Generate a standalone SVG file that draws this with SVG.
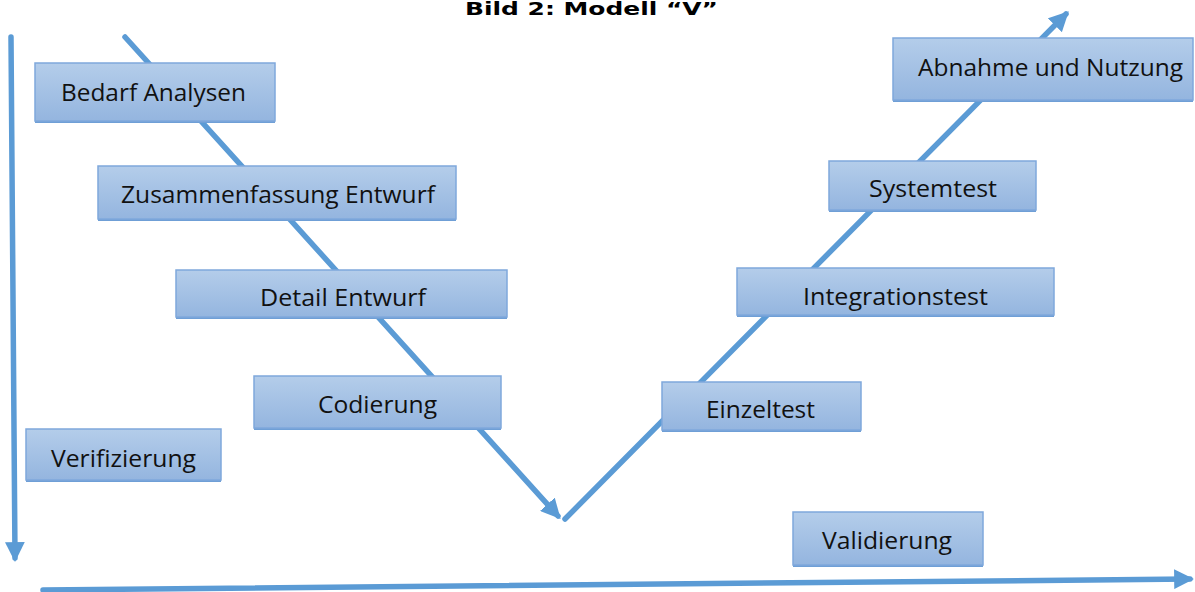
<svg xmlns="http://www.w3.org/2000/svg" width="1195" height="592" viewBox="0 0 1195 592">
<defs>
<linearGradient id="bg" x1="0" y1="0" x2="0" y2="1">
<stop offset="0" stop-color="#b4cdea"/>
<stop offset="1" stop-color="#94b5df"/>
</linearGradient>
<marker id="ah" viewBox="0 0 10 10" refX="8" refY="5" markerWidth="3.6" markerHeight="3.6" orient="auto" markerUnits="strokeWidth">
<path d="M0,0 L10,5 L0,10 z" fill="#5b9bd5"/>
</marker>
<style>
.ln{stroke:#5b9bd5;stroke-width:5.5;fill:none;stroke-linecap:round}
.bx{fill:url(#bg);stroke:#7fa8dc;stroke-width:1.5}
.sh{fill:#6f9fd6}
.tx{font-family:"Open Sans","Liberation Sans",sans-serif;font-size:23px;fill:#111;text-anchor:start}
.ti{font-family:"DejaVu Sans",sans-serif;font-weight:bold;font-size:17px;fill:#000}
</style>
</defs>
<rect width="1195" height="592" fill="#fff"/>
<text class="ti" x="465" y="15" textLength="253" lengthAdjust="spacingAndGlyphs">Bild 2: Modell “V”</text>
<g id="connectors">
<line class="ln" x1="125" y1="37" x2="558" y2="516" marker-end="url(#ah)"/>
<line class="ln" x1="565" y1="519" x2="1066" y2="14" marker-end="url(#ah)"/>
<line class="ln" x1="11" y1="37" x2="15" y2="558" marker-end="url(#ah)"/>
<line class="ln" x1="43" y1="590" x2="1190" y2="579" marker-end="url(#ah)"/>
</g>
<g id="n-bedarf"><rect class="sh" x="35" y="119" width="240" height="4"/><rect class="bx" x="35" y="63" width="240" height="58"/><text class="tx" x="61" y="101" textLength="185" lengthAdjust="spacingAndGlyphs">Bedarf Analysen</text></g>
<g id="n-zusammenfassung"><rect class="sh" x="98" y="217" width="358" height="4"/><rect class="bx" x="98" y="166" width="358" height="53"/><text class="tx" x="121" y="203" textLength="314" lengthAdjust="spacingAndGlyphs">Zusammenfassung Entwurf</text></g>
<g id="n-detail"><rect class="sh" x="176" y="315" width="331" height="4"/><rect class="bx" x="176" y="270" width="331" height="47"/><text class="tx" x="260" y="306" textLength="166" lengthAdjust="spacingAndGlyphs">Detail Entwurf</text></g>
<g id="n-codierung"><rect class="sh" x="254" y="426" width="247" height="4"/><rect class="bx" x="254" y="376" width="247" height="52"/><text class="tx" x="318" y="413" textLength="119" lengthAdjust="spacingAndGlyphs">Codierung</text></g>
<g id="n-verifizierung"><rect class="sh" x="26" y="478" width="195" height="4"/><rect class="bx" x="26" y="429" width="195" height="51"/><text class="tx" x="51" y="467" textLength="145" lengthAdjust="spacingAndGlyphs">Verifizierung</text></g>
<g id="n-einzeltest"><rect class="sh" x="662" y="428" width="199" height="4"/><rect class="bx" x="662" y="382" width="199" height="48"/><text class="tx" x="706" y="418" textLength="109" lengthAdjust="spacingAndGlyphs">Einzeltest</text></g>
<g id="n-integrationstest"><rect class="sh" x="737" y="313" width="317" height="4"/><rect class="bx" x="737" y="268" width="317" height="47"/><text class="tx" x="803" y="305" textLength="185" lengthAdjust="spacingAndGlyphs">Integrationstest</text></g>
<g id="n-systemtest"><rect class="sh" x="829" y="208" width="207" height="4"/><rect class="bx" x="829" y="161" width="207" height="49"/><text class="tx" x="869" y="197" textLength="128" lengthAdjust="spacingAndGlyphs">Systemtest</text></g>
<g id="n-abnahme"><rect class="sh" x="893" y="98" width="300" height="4"/><rect class="bx" x="893" y="38" width="300" height="62"/><text class="tx" x="918" y="76" textLength="265" lengthAdjust="spacingAndGlyphs">Abnahme und Nutzung</text></g>
<g id="n-validierung"><rect class="sh" x="793" y="563" width="190" height="4"/><rect class="bx" x="793" y="512" width="190" height="53"/><text class="tx" x="822" y="549" textLength="130" lengthAdjust="spacingAndGlyphs">Validierung</text></g>
</svg>
